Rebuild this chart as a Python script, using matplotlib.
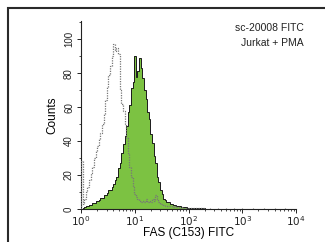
import numpy as np
import matplotlib
matplotlib.use("Agg")
import matplotlib.pyplot as plt
from matplotlib.patches import Rectangle
from matplotlib.ticker import LogLocator, MultipleLocator, NullFormatter

plt.rcParams['font.family'] = ['Liberation Sans Narrow', 'Liberation Sans', 'DejaVu Sans']

# log10 channel positions (step 0.03 decade) for the histogram bins
log_start = 0.0
log_step = 0.03

# FAS (C153) FITC stained sample counts
stained_counts = [
    0, 0.5, 1, 1.5, 1.5, 2.5, 2.5, 3.5, 3.5, 4.5, 5, 5.5, 6.5, 6.5, 8, 8.5, 9.5, 11, 11, 13,
    14.5, 17, 19, 24, 27, 33, 38, 43, 49, 57, 61, 71, 75, 90, 78, 81, 89, 83, 77, 70,
    65, 57, 53, 44, 39, 31, 27, 19, 16, 11, 9, 6, 5.5, 4, 4, 3, 3, 2.5, 2.5, 2,
    1.8, 1.5, 1.2, 1.3, 1, 0.9, 0.8, 0.7, 0.7, 0.5, 0.6, 0.4, 0.5, 0.3, 0.4, 0.3, 0.3, 0.2,
]

# isotype control counts
control_counts = [
    28, 3, 6, 10, 13, 17, 21, 25, 30, 34, 37, 41, 45, 50, 56, 64, 72, 79, 84, 90,
    97, 93, 95, 91, 70, 62, 58, 50, 42, 33, 25, 19, 13, 9, 7, 6, 5, 4, 5, 4,
    6, 4, 5, 4, 6, 5, 8, 6, 4, 3, 3, 2.5, 2, 2, 1.5, 2, 1.5, 1, 1.5, 1,
    1, 0.8, 1, 0.7, 0.8, 0.6, 0.8, 0.5, 0.7, 0.5, 0.6, 0.4, 0.6, 0.4, 0.5, 0.4,
]

# sparse tail of the control beyond 10^2.3
tail_logs = [2.4, 2.55, 2.7, 2.85, 3.0, 3.2, 3.4, 3.6, 3.8, 3.95]
tail_counts = [0.6, 0.4, 0.8, 0.3, 0.5, 0.3, 0.4, 0.3, 0.3, 0.2]

x_ticks = [1, 10, 100, 1000, 10000]
x_ticklabels = [r'$10^0$', r'$10^1$', r'$10^2$', r'$10^3$', r'$10^4$']
y_ticks = [0, 20, 40, 60, 80, 100]

W, H = 325, 242
fig = plt.figure(figsize=(W / 100, H / 100), dpi=100)

# outer frame (only left/top visible)
fig.add_artist(Rectangle((8 / W, -0.1), 1.2, 1 - 8 / H + 0.1, transform=fig.transFigure,
                         fill=False, edgecolor='#2a2a2a', linewidth=1.5))

ax = fig.add_axes([81 / W, 1 - 209 / H, (296 - 81) / W, (209 - 20.5) / H])

def edges(n):
    return 10 ** (log_start + log_step * np.arange(n + 1))

se = edges(len(stained_counts))
ce = edges(len(control_counts))

ax.stairs(stained_counts, se, fill=True, color='#7cc242', linewidth=0, zorder=2)
ax.stairs(stained_counts, se, fill=False, color='#1a1a1a', linewidth=0.7, zorder=3)
ax.stairs(control_counts, ce, fill=False, color='#777777', linewidth=0.9,
          linestyle=(0, (1, 1)), zorder=4)
tx = 10 ** np.array(tail_logs)
ax.vlines(tx, 0, tail_counts, color='#777777', linewidth=0.8, zorder=4)

ax.set_xscale('log')
ax.set_xlim(1, 10000)
ax.set_ylim(0, 111)
ax.set_xticks(x_ticks)
ax.set_xticklabels(x_ticklabels, fontsize=7.5)
ax.xaxis.set_minor_locator(LogLocator(base=10, subs=np.arange(2, 10), numticks=20))
ax.xaxis.set_minor_formatter(NullFormatter())
ax.set_yticks(y_ticks)
ax.set_yticklabels([str(v) for v in y_ticks], fontsize=7, rotation=90, va='center')
ax.yaxis.set_minor_locator(MultipleLocator(10))
ax.tick_params(axis='both', which='major', length=3, width=0.7, direction='out', pad=2, colors='#222222')
ax.tick_params(axis='x', which='major', pad=1)
ax.tick_params(axis='both', which='minor', length=1.5, width=0.5, direction='out')

for s in ['top', 'right']:
    ax.spines[s].set_visible(False)
for s in ['left', 'bottom']:
    ax.spines[s].set_linewidth(0.8)
    ax.spines[s].set_color('#222222')

ax.set_xlabel('FAS (C153) FITC', fontsize=8.5, labelpad=-1)
ax.set_ylabel('Counts', fontsize=8.5, labelpad=4)

fig.text(304 / W, 1 - 28 / H, 'sc-20008 FITC', fontsize=7.5, ha='right', va='center', color='#222222')
fig.text(304 / W, 1 - 43 / H, 'Jurkat + PMA', fontsize=7.5, ha='right', va='center', color='#222222')

fig.savefig('out.png', dpi=100)
